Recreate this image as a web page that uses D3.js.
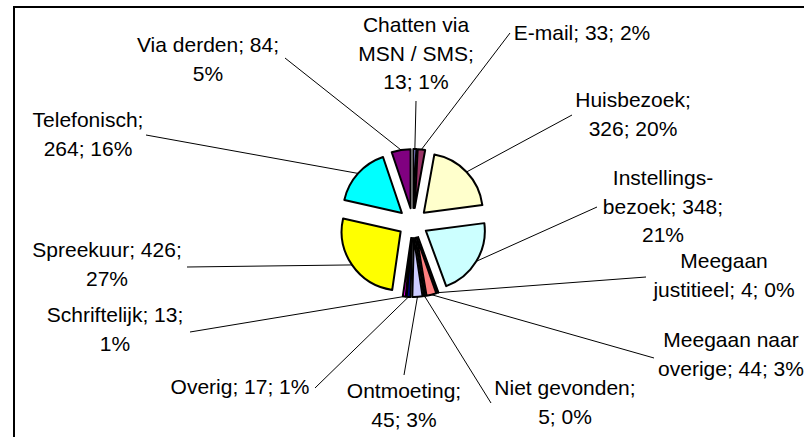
<!DOCTYPE html>
<html>
<head>
<meta charset="utf-8">
<script src="https://cdn.jsdelivr.net/npm/d3@7"></script>
<style>
  body { margin: 0; background: #fff; }
  svg text { font-family: "Liberation Sans", Arial, sans-serif; font-size: 21px; fill: #000; }
</style>
</head>
<body>
<div id="chart"></div>
<script>
// Data
const categories = ["Chatten via MSN / SMS", "E-mail", "Huisbezoek", "Instellingsbezoek",
  "Meegaan justitieel", "Meegaan naar overige", "Niet gevonden", "Ontmoeting",
  "Overig", "Schriftelijk", "Spreekuur", "Telefonisch", "Via derden"];
const values = [13, 33, 326, 348, 4, 44, 5, 45, 17, 13, 426, 264, 84];
const percents = ["1%", "2%", "20%", "21%", "0%", "3%", "0%", "3%", "1%", "1%", "27%", "16%", "5%"];
const labelLines = [
  ["Chatten via", "MSN / SMS;", "13; 1%"],
  ["E-mail; 33; 2%"],
  ["Huisbezoek;", "326; 20%"],
  ["Instellings-", "bezoek; 348;", "21%"],
  ["Meegaan", "justitieel; 4; 0%"],
  ["Meegaan naar", "overige; 44; 3%"],
  ["Niet gevonden;", "5; 0%"],
  ["Ontmoeting;", "45; 3%"],
  ["Overig; 17; 1%"],
  ["Schriftelijk; 13;", "1%"],
  ["Spreekuur; 426;", "27%"],
  ["Telefonisch;", "264; 16%"],
  ["Via derden; 84;", "5%"]
];

// Excel-style palette
const colors = ["#9999FF", "#993366", "#FFFFCC", "#CCFFFF", "#660066", "#FF8080",
  "#0066CC", "#CCCCFF", "#000080", "#FF00FF", "#FFFF00", "#00FFFF", "#800080"];

// label layout: text centre x, first baseline y, leader end point
const labelLayout = [
  { x: 416, y: 32, lx: 416, ly: 101 },
  { x: 582, y: 40, lx: 510, ly: 33 },
  { x: 633, y: 107, lx: 572, ly: 115 },
  { x: 663, y: 185, lx: 597, ly: 207 },
  { x: 724, y: 268, lx: 646, ly: 277 },
  { x: 731, y: 347, lx: 654, ly: 358 },
  { x: 565, y: 395, lx: 491, ly: 403 },
  { x: 404, y: 398, lx: 404, ly: 375 },
  { x: 240, y: 394, lx: 315, ly: 388 },
  { x: 115, y: 322, lx: 190, ly: 332 },
  { x: 107, y: 257, lx: 187, ly: 267 },
  { x: 88, y: 127, lx: 146, ly: 135 },
  { x: 208, y: 52, lx: 285, ly: 58 }
];

const width = 804;
const height = 437;
const cx = 413, cy = 223;
const radius = 59;
const explode = 15;
const lineHeight = 28.5;

const svg = d3.select("#chart")
  .append("svg")
  .attr("width", width)
  .attr("height", height);

// chart border
svg.append("rect")
  .attr("x", 14)
  .attr("y", 7)
  .attr("width", 820)
  .attr("height", 460)
  .attr("fill", "#fff")
  .attr("stroke", "#000")
  .attr("stroke-width", 2);

const pie = d3.pie().sort(null).value(d => d)(values);
const arc = d3.arc().innerRadius(0).outerRadius(radius);

const mid = d => (d.startAngle + d.endAngle) / 2;

const g = svg.append("g").attr("transform", `translate(${cx},${cy})`);

// leader lines
g.selectAll("line.leader")
  .data(pie)
  .enter()
  .append("line")
  .attr("class", "leader")
  .attr("x1", d => (explode + radius) * Math.sin(mid(d)))
  .attr("y1", d => -(explode + radius) * Math.cos(mid(d)))
  .attr("x2", (d, i) => labelLayout[i].lx - cx)
  .attr("y2", (d, i) => labelLayout[i].ly - cy)
  .attr("stroke", "#000")
  .attr("stroke-width", 1);

// slices
g.selectAll("path.slice")
  .data(pie)
  .enter()
  .append("path")
  .attr("class", "slice")
  .attr("transform", d => `translate(${explode * Math.sin(mid(d))},${-explode * Math.cos(mid(d))})`)
  .attr("d", arc)
  .attr("fill", (d, i) => colors[i])
  .attr("stroke", "#000")
  .attr("stroke-width", 2)
  .attr("stroke-linejoin", "round");

// labels
const labels = svg.selectAll("text.label")
  .data(labelLines)
  .enter()
  .append("text")
  .attr("class", "label")
  .attr("text-anchor", "middle");

labels.selectAll("tspan")
  .data((lines, i) => lines.map((t, j) => ({ t, j, i })))
  .enter()
  .append("tspan")
  .attr("x", d => labelLayout[d.i].x)
  .attr("y", d => labelLayout[d.i].y + d.j * lineHeight)
  .text(d => d.t);
</script>
</body>
</html>
